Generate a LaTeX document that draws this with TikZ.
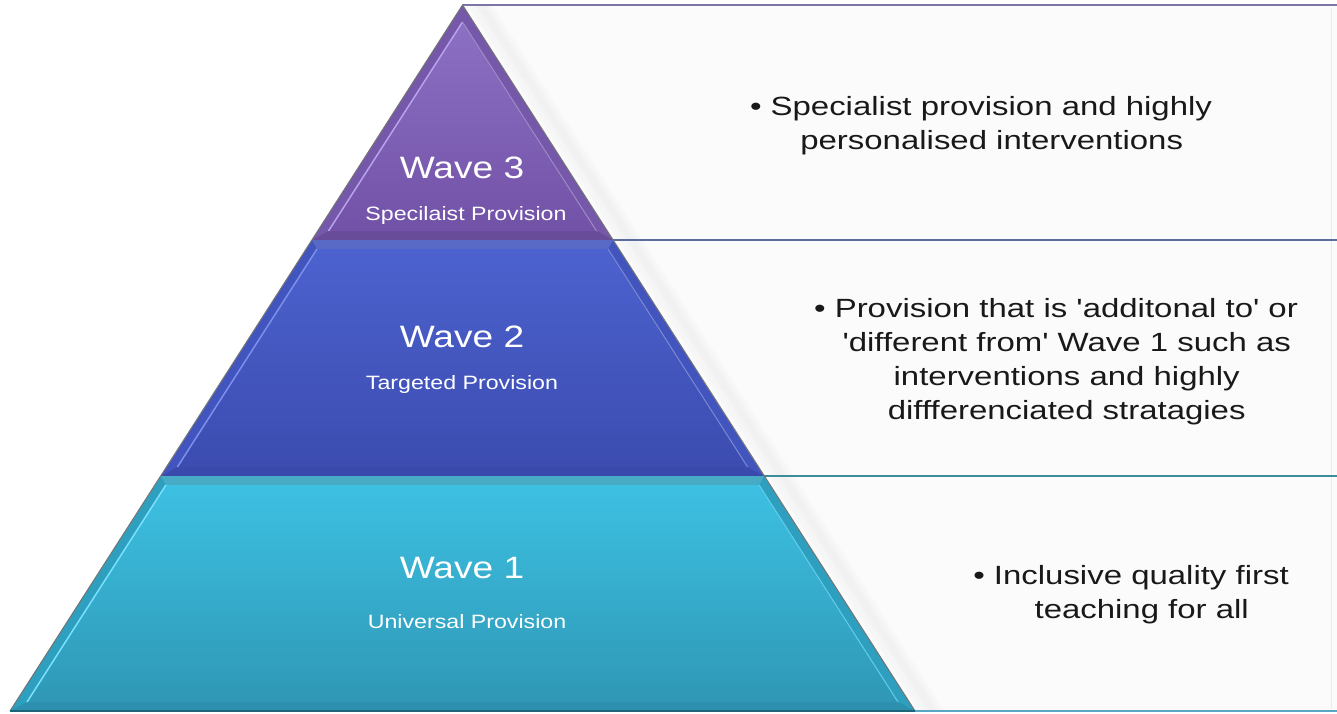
\documentclass[tikz,border=0pt]{standalone}
\usepackage{fontspec}
\setmainfont{Liberation Sans}[Ligatures=TeXOff]
\usepackage{graphicx}
\newcommand\hstretch[1]{\scalebox{1.2}[1]{#1}}
\newcommand\dstretch[1]{\scalebox{1.25}[1]{#1}}
\definecolor{pOut}{HTML}{7558AA}\definecolor{pInT}{HTML}{8C70C4}\definecolor{pInB}{HTML}{7252A6}\definecolor{pHi}{HTML}{B9A2EE}\definecolor{pDk}{HTML}{684C9A}
\definecolor{bOut}{HTML}{4255BE}\definecolor{bInT}{HTML}{4C62CE}\definecolor{bInB}{HTML}{3C4CB0}\definecolor{bHi}{HTML}{7C90EC}\definecolor{bDk}{HTML}{3A4AAC}
\definecolor{cOut}{HTML}{2E9FBE}\definecolor{cInT}{HTML}{3DC0E2}\definecolor{cInB}{HTML}{2F98B6}\definecolor{cHi}{HTML}{78E2FF}\definecolor{cDk}{HTML}{2C90AE}
\definecolor{boxbg}{HTML}{FBFBFB}
\definecolor{lnTop}{RGB}{127,116,166}\definecolor{lnMid}{RGB}{93,108,158}\definecolor{lnLow}{RGB}{62,140,152}\definecolor{lnBot}{RGB}{90,166,196}
\begin{document}
\begin{tikzpicture}[x=0.02cm,y=-0.02cm,
  wave/.style={text=white, inner sep=0pt, font=\fontsize{17.6}{20}\selectfont},
  sub/.style={text=white, inner sep=0pt, font=\fontsize{11}{13}\selectfont},
  desc/.style={text=black!90, inner sep=0pt, font=\fontsize{15}{19.3}\selectfont},
  boxline/.style={line width=1.25pt}]
\useasboundingbox (0,0) rectangle (1337,713);
\fill[white] (0,0) rectangle (1337,713);
% pyramid corners
\coordinate (A) at (462.5,5);
\coordinate (L1) at (312,240);  \coordinate (R1) at (613,240);
\coordinate (L2) at (161,476);  \coordinate (R2) at (764,476);
\coordinate (L3) at (10,711);   \coordinate (R3) at (915,711);
% right boxes
\fill[boxbg] (A) -- (1337,5) -- (1337,711) -- (R3) -- cycle;
\draw[black!8, line width=0.57pt] (1331,8) -- (1331,709);
\begin{scope}
  \clip (A) -- (1337,5) -- (1337,711) -- (R3) -- cycle;
  \foreach \k in {6,8,...,28}
    \draw[black, opacity=0.009, line width=2.27pt] ([xshift=\k*0.02cm]A) -- ([xshift=\k*0.02cm]R3);
  \foreach \k in {14,16,...,22}
    \draw[black, opacity=0.008, line width=2.27pt] ([xshift=\k*0.02cm]A) -- ([xshift=\k*0.02cm]R3);
\end{scope}
\draw[boxline, lnTop] (A) -- (1337,5);
\draw[boxline, lnMid] (R1) -- (1337,240);
\draw[boxline, lnLow] (R2) -- (1337,476);
\draw[boxline, lnBot] (R3) -- (1337,711);
% top segment (wave 3)
\fill[pOut] (A) -- (L1) -- (R1) -- cycle;
\fill[pDk] (R1) -- (L1) -- (328.5,231) -- (596.5,231) -- cycle;
\shade[top color=pInT, bottom color=pInB] (462.5,22) -- (328.5,231) -- (596.5,231) -- cycle;
\draw[pHi, line width=0.85pt] (462.5,22) -- (328.5,231);
\draw[pOut!70!white, line width=0.57pt] (462.5,22) -- (596.5,231);
% middle segment (wave 2)
\fill[bOut] (L1) -- (L2) -- (R2) -- (R1) -- cycle;
\fill[bDk] (R2) -- (L2) -- (177.4,467) -- (747.6,467) -- cycle;
\fill[bOut!88!white] (L1) -- (R1) -- (608,249) -- (317,249) -- cycle;
\shade[top color=bInT, bottom color=bInB] (317,249) -- (177.4,467) -- (747.6,467) -- (608,249) -- cycle;
\draw[bHi, line width=0.85pt] (317,249) -- (177.4,467);
\draw[bOut!70!white, line width=0.57pt] (608,249) -- (747.6,467);
% bottom segment (wave 1)
\fill[cOut] (L2) -- (L3) -- (R3) -- (R2) -- cycle;
\fill[cDk] (R3) -- (L3) -- (27,702) -- (898,702) -- cycle;
\fill[cOut!88!white] (L2) -- (R2) -- (759.1,485) -- (165.9,485) -- cycle;
\shade[top color=cInT, bottom color=cInB] (165.9,485) -- (27,702) -- (898,702) -- (759.1,485) -- cycle;
\draw[cHi, line width=0.85pt] (165.9,485) -- (27,702);
\draw[cHi!70!cOut, line width=0.57pt] (759.1,485) -- (898,702);
% outline
\draw[black!55, line width=0.57pt] (L3) -- (A) -- (R3);
\draw[cDk!70!black, line width=0.68pt] (L3) -- (R3);
% labels
\node[wave] (w3) at (462,168) {\hstretch{Wave 3}};
\node[sub] (w3s) at (466,216) {\hstretch{Specilaist Provision}};
\node[wave] (w2) at (462,337) {\hstretch{Wave 2}};
\node[sub] (w2s) at (462,384) {\hstretch{Targeted Provision}};
\node[wave] (w1) at (462,568) {\hstretch{Wave 1}};
\node[sub] (w1s) at (467,622) {\hstretch{Universal Provision}};
% descriptions
\node[desc] (t3) at (981,126) {\dstretch{\begin{tabular}{@{}c@{}}\textbullet\ Specialist provision and highly\\ \hspace*{0.65em}personalised interventions\end{tabular}}};
\node[desc] (t2) at (1056,362) {\dstretch{\begin{tabular}{@{}c@{}}\textbullet\ Provision that is 'additonal to' or\\ \hspace*{0.65em}'different from' Wave 1 such as\\ \hspace*{0.65em}interventions and highly\\ \hspace*{0.65em}diffferenciated stratagies\end{tabular}}};
\node[desc] (t1) at (1131,595) {\dstretch{\begin{tabular}{@{}c@{}}\textbullet\ Inclusive quality first\\ \hspace*{0.65em}teaching for all\end{tabular}}};
\end{tikzpicture}
\end{document}
